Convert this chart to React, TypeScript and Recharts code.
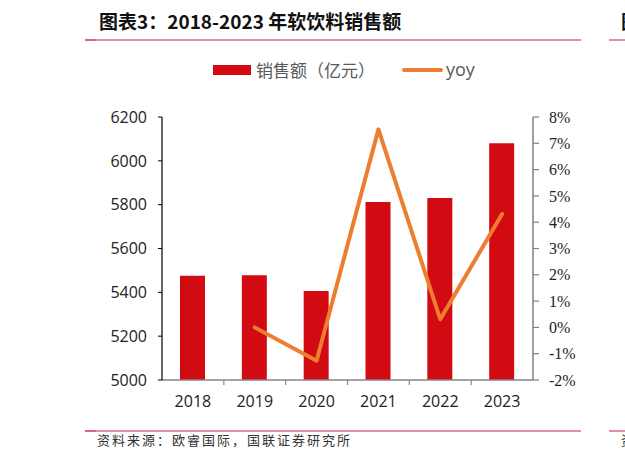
import React from "react";
import { ComposedChart, Bar, Line, XAxis, YAxis } from "recharts";

const years = ["2018", "2019", "2020", "2021", "2022", "2023"];
const sales = [5476, 5478, 5406, 5812, 5830, 6080];
const yoy: (number | null)[] = [null, 0.0, -1.27, 7.53, 0.31, 4.31];
const leftTicks = [5000, 5200, 5400, 5600, 5800, 6000, 6200];
const rightTicks = [-2, -1, 0, 1, 2, 3, 4, 5, 6, 7, 8];

const data = years.map((y, i) => ({ year: y, sales: sales[i], yoy: yoy[i] }));

const W = 625;
const H = 459;
const PLOT_LEFT = 162;
const PLOT_RIGHT = 533;
const PLOT_TOP = 117;
const PLOT_BOTTOM = 380;
const AXIS_W = 60;
const XAXIS_H = 30;
const HALF_BAND = (PLOT_RIGHT - PLOT_LEFT) / years.length / 2;

const XTick = (props: any) => {
  const { x, payload, index } = props;
  const axisY = PLOT_BOTTOM;
  return (
    <g>
      {index > 0 && (
        <line x1={x - HALF_BAND} x2={x - HALF_BAND} y1={axisY} y2={axisY + 5} stroke="#868686" strokeWidth={1.2} />
      )}
      <text
        x={x}
        y={axisY + 23}
        textAnchor="middle"
        dominantBaseline="middle"
        fontFamily="'Open Sans', 'Noto Sans', sans-serif"
        fontSize={16}
        fill="#222"
      >
        {payload.value}
      </text>
    </g>
  );
};

const pink = "#E58EA0";

export default function App() {
  return (
    <div
      style={{
        position: "absolute",
        left: 0,
        top: 0,
        width: W,
        height: H,
        background: "#fff",
        overflow: "hidden",
      }}
    >
      {/* title */}
      <div
        style={{
          position: "absolute",
          left: 99,
          top: 7,
          fontFamily: "'Noto Sans CJK SC', sans-serif",
          fontWeight: 700,
          fontSize: 19,
          lineHeight: "27px",
          color: "#111",
          whiteSpace: "nowrap",
        }}
      >
        图表3：2018-2023 年软饮料销售额
      </div>
      <div
        style={{
          position: "absolute",
          left: 621,
          top: 7,
          fontFamily: "'Noto Sans CJK SC', sans-serif",
          fontWeight: 700,
          fontSize: 19,
          lineHeight: "27px",
          color: "#111",
          whiteSpace: "nowrap",
        }}
      >
        图
      </div>
      {/* top rules */}
      <div style={{ position: "absolute", left: 85, top: 39, width: 496, height: 2, background: pink }} />
      <div style={{ position: "absolute", left: 85, top: 39, width: 11, height: 2, background: "#D8667F" }} />
      <div style={{ position: "absolute", left: 609, top: 39, width: 16, height: 2, background: pink }} />

      {/* legend */}
      <div style={{ position: "absolute", left: 213, top: 65, width: 38, height: 10, background: "#D20A11" }} />
      <div
        style={{
          position: "absolute",
          left: 256,
          top: 58,
          fontFamily: "'Noto Sans CJK SC', sans-serif",
          fontSize: 17,
          lineHeight: "24px",
          color: "#595959",
          whiteSpace: "nowrap",
        }}
      >
        销售额（亿元）
      </div>
      <div
        style={{
          position: "absolute",
          left: 402,
          top: 68,
          width: 41,
          height: 4,
          borderRadius: 2,
          background: "#ED7D31",
        }}
      />
      <div
        style={{
          position: "absolute",
          left: 446,
          top: 57,
          fontFamily: "'Open Sans', 'Noto Sans', sans-serif",
          fontSize: 18,
          lineHeight: "24px",
          color: "#595959",
          whiteSpace: "nowrap",
        }}
      >
        yoy
      </div>

      <div style={{ position: "absolute", left: 0, top: 0 }}>
        <ComposedChart
          width={W}
          height={H}
          data={data}
          margin={{
            top: PLOT_TOP,
            bottom: H - PLOT_BOTTOM - XAXIS_H,
            left: PLOT_LEFT - AXIS_W,
            right: W - PLOT_RIGHT - AXIS_W,
          }}
        >
          <XAxis
            dataKey="year"
            height={XAXIS_H}
            axisLine={{ stroke: "#868686", strokeWidth: 1.5 }}
            tickLine={false}
            tick={<XTick />}
            interval={0}
          />
          <YAxis
            yAxisId="left"
            orientation="left"
            width={AXIS_W}
            domain={[5000, 6200]}
            ticks={leftTicks}
            interval={0}
            axisLine={{ stroke: "#000", strokeWidth: 1.2 }}
            tickLine={{ stroke: "#000" }}
            tickSize={4}
            tickMargin={11}
            tick={{ fontFamily: "'Open Sans', 'Noto Sans', sans-serif", fontSize: 16, fill: "#222" }}
          />
          <YAxis
            yAxisId="right"
            orientation="right"
            width={AXIS_W}
            domain={[-2, 8]}
            ticks={rightTicks}
            interval={0}
            axisLine={{ stroke: "#808080", strokeWidth: 1.5 }}
            tickLine={{ stroke: "#808080", strokeWidth: 1.2 }}
            tickSize={6}
            tickMargin={10}
            tickFormatter={(v: number) => `${v}%`}
            tick={{ fontFamily: "'Liberation Serif', 'Times New Roman', serif", fontSize: 16, fill: "#222" }}
          />
          <Bar yAxisId="left" dataKey="sales" fill="#D20A11" barSize={25} isAnimationActive={false} />
          <Line
            yAxisId="right"
            type="linear"
            dataKey="yoy"
            stroke="#ED7D31"
            strokeWidth={4}
            dot={false}
            activeDot={false}
            strokeLinecap="round"
            strokeLinejoin="round"
            isAnimationActive={false}
          />
        </ComposedChart>
      </div>

      {/* bottom rules and source */}
      <div style={{ position: "absolute", left: 85, top: 430, width: 496, height: 2, background: pink }} />
      <div style={{ position: "absolute", left: 85, top: 430, width: 11, height: 2, background: "#D8667F" }} />
      <div style={{ position: "absolute", left: 609, top: 430, width: 16, height: 2, background: pink }} />
      <div
        style={{
          position: "absolute",
          left: 97,
          top: 431,
          fontFamily: "'Noto Sans CJK SC', sans-serif",
          fontSize: 13,
          lineHeight: "18px",
          letterSpacing: 2,
          color: "#333",
          whiteSpace: "nowrap",
        }}
      >
        资料来源：欧睿国际，国联证券研究所
      </div>
      <div
        style={{
          position: "absolute",
          left: 621,
          top: 431,
          fontFamily: "'Noto Sans CJK SC', sans-serif",
          fontSize: 13,
          lineHeight: "18px",
          color: "#333",
          whiteSpace: "nowrap",
        }}
      >
        资
      </div>
    </div>
  );
}
